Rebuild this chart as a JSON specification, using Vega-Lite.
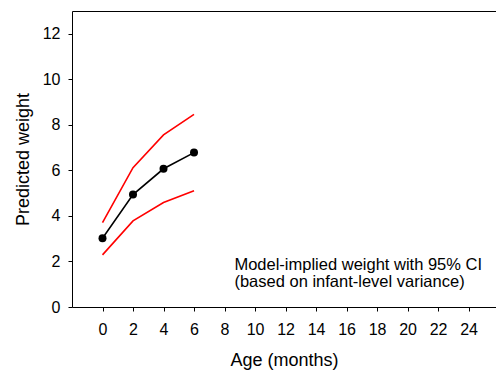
{
  "$schema": "https://vega.github.io/schema/vega-lite/v6.json",
  "width": 424,
  "height": 296,
  "autosize": {"type": "none"},
  "padding": {"left": 72, "top": 11, "right": 0, "bottom": 65},
  "background": "white",
  "config": {
    "view": {"stroke": null},
    "font": "Liberation Sans",
    "axis": {
      "grid": false,
      "domainColor": "black",
      "domainWidth": 1,
      "tickColor": "black",
      "tickSize": 4,
      "labelFontSize": 16,
      "labelColor": "black",
      "titleFontSize": 18,
      "titleColor": "black",
      "titleFontWeight": "normal",
      "labelOverlap": false,
      "labelFlush": false
    }
  },
  "data": {
    "values": [
      {"age": 0, "series": "mean", "weight": 3.02},
      {"age": 2, "series": "mean", "weight": 4.94},
      {"age": 4, "series": "mean", "weight": 6.07},
      {"age": 6, "series": "mean", "weight": 6.78},
      {"age": 0, "series": "upper", "weight": 3.71},
      {"age": 2, "series": "upper", "weight": 6.12},
      {"age": 4, "series": "upper", "weight": 7.56},
      {"age": 6, "series": "upper", "weight": 8.46},
      {"age": 0, "series": "lower", "weight": 2.29},
      {"age": 2, "series": "lower", "weight": 3.78},
      {"age": 4, "series": "lower", "weight": 4.59},
      {"age": 6, "series": "lower", "weight": 5.11}
    ]
  },
  "resolve": {"axis": {"x": "independent"}},
  "layer": [
    {
      "transform": [{"filter": "datum.series !== 'mean'"}],
      "mark": {"type": "line", "color": "#ff0000", "strokeWidth": 1.6},
      "encoding": {
        "x": {
          "field": "age",
          "type": "quantitative",
          "scale": {"domain": [-2, 25.8], "nice": false, "zero": false},
          "axis": {
            "orient": "bottom",
            "values": [0, 2, 4, 6, 8, 10, 12, 14, 16, 18, 20, 22, 24],
            "labelPadding": 10,
            "titlePadding": 14,
            "title": "Age (months)"
          }
        },
        "y": {
          "field": "weight",
          "type": "quantitative",
          "scale": {"domain": [0, 13], "nice": false, "zero": false},
          "axis": {
            "values": [0, 2, 4, 6, 8, 10, 12],
            "labelPadding": 8,
            "titlePadding": 10,
            "title": "Predicted weight"
          }
        },
        "detail": {"field": "series"}
      }
    },
    {
      "transform": [{"filter": "datum.series === 'mean'"}],
      "mark": {
        "type": "line",
        "color": "black",
        "strokeWidth": 1.6,
        "point": {"filled": true, "size": 64, "color": "black", "opacity": 1}
      },
      "encoding": {
        "x": {
          "field": "age",
          "type": "quantitative",
          "axis": {
            "orient": "top",
            "labels": false,
            "ticks": false,
            "title": null
          }
        },
        "y": {"field": "weight", "type": "quantitative"}
      }
    },
    {
      "data": {"values": [{}]},
      "mark": {
        "type": "text",
        "align": "left",
        "baseline": "alphabetic",
        "fontSize": 16.5,
        "lineHeight": 17,
        "color": "black"
      },
      "encoding": {
        "x": {"datum": 8.65, "type": "quantitative", "axis": null},
        "y": {"datum": 1.64, "type": "quantitative"},
        "text": {"value": ["Model-implied weight with 95% CI", "(based on infant-level variance)"]}
      }
    }
  ]
}
